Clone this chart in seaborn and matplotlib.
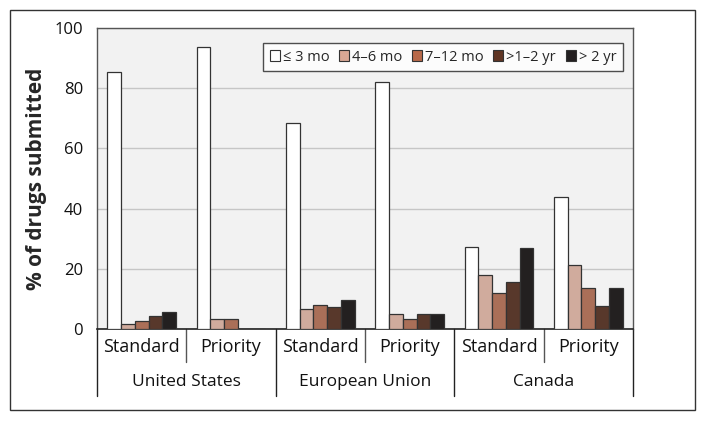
import numpy as np
import pandas as pd
import matplotlib.pyplot as plt
import matplotlib.patches as mpatches
import seaborn as sns

# values (% of drugs submitted)
regions = ["United States", "European Union", "Canada"]
reviews = ["Standard", "Priority"]
durations = ["≤ 3 mo", "4–6 mo", "7–12 mo", ">1–2 yr", "> 2 yr"]
us_standard = [85.5, 1.7, 2.7, 4.3, 5.5]
us_priority = [93.6, 3.3, 3.3, 0, 0]
eu_standard = [68.4, 6.6, 8.0, 7.4, 9.6]
eu_priority = [82.0, 4.9, 3.3, 5.0, 5.0]
ca_standard = [27.3, 18.0, 11.9, 15.5, 27.0]
ca_priority = [43.8, 21.2, 13.6, 7.6, 13.7]
colors = ["#ffffff", "#d8a794", "#b8694a", "#5f3524", "#231f20"]

series = [us_standard, us_priority, eu_standard, eu_priority, ca_standard, ca_priority]
groups = [f"{r}|{t}" for r in regions for t in reviews]
rows = []
for g, vals in zip(groups, series):
    for d, v in zip(durations, vals):
        rows.append({"group": g, "duration": d, "pct": v})
df = pd.DataFrame(rows)

sns.set_theme(style="white")
plt.rcParams['font.family'] = ['Open Sans', 'DejaVu Sans']

fig = plt.figure(figsize=(7.06, 4.21), dpi=100)
ax = fig.add_axes([0.1374, 0.2185, 0.7592, 0.715])
ax.set_facecolor("#f2f2f2")

sns.barplot(data=df, x="group", y="pct", hue="duration", order=groups,
            hue_order=durations, palette=colors, width=0.77, gap=0,
            edgecolor="#333333", linewidth=0.9, ax=ax, legend=False, zorder=3)

ax.set_ylim(0, 100)
ax.set_xlim(-0.5, 5.5)
ax.set_yticks(range(0, 101, 20))
ax.yaxis.grid(True, color="#c6c6c6", linewidth=1, zorder=0)
ax.set_axisbelow(True)
ax.tick_params(axis="y", direction="out", length=5, color="#555555",
               labelsize=12, pad=5, labelcolor="#111111")
ax.tick_params(axis="x", bottom=False, labelbottom=False)
ax.set_xlabel("")
ax.set_ylabel("% of drugs submitted", fontsize=15, fontweight="bold")
ax.yaxis.set_label_coords(-0.093, 0.5)
for side in ["left", "top", "right"]:
    ax.spines[side].set_color("#555555")
    ax.spines[side].set_linewidth(1)
ax.spines["bottom"].set_color("#222222")
ax.spines["bottom"].set_linewidth(1.2)

# category labels below the axis
tr = ax.get_xaxis_transform()
for i, g in enumerate(groups):
    ax.text(i, -0.06, g.split("|")[1], transform=tr, ha="center",
            va="center", fontsize=13, color="#111111")
for j, r in enumerate(regions):
    ax.text(2 * j + 0.5, -0.176, r, transform=tr, ha="center",
            va="center", fontsize=12.5, color="#111111")
for x in [0.5, 2.5, 4.5]:
    ax.plot([x, x], [0, -0.11], transform=tr, color="#555555", lw=1,
            clip_on=False)
for x in [-0.5, 1.5, 3.5, 5.5]:
    ax.plot([x, x], [0, -0.223], transform=tr, color="#222222", lw=1,
            clip_on=False)

handles = [mpatches.Patch(facecolor=c, edgecolor="#333333", linewidth=0.8)
           for c in colors]
leg = ax.legend(handles, durations, loc="upper right",
                bbox_to_anchor=(0.981, 0.95), ncol=5, fontsize=10.5,
                frameon=True, fancybox=False, borderaxespad=0,
                handlelength=0.7, handleheight=0.7, handletextpad=0.2,
                columnspacing=0.65, borderpad=0.45)
leg.get_frame().set_edgecolor("#222222")
leg.get_frame().set_linewidth(1)
leg.get_frame().set_facecolor("white")

# outer frame
fig.patches.append(mpatches.Rectangle((0.0142, 0.0261), 0.970, 0.950,
                                      transform=fig.transFigure, fill=False,
                                      edgecolor="#333333", linewidth=1))

plt.savefig("out.png", dpi=100)
